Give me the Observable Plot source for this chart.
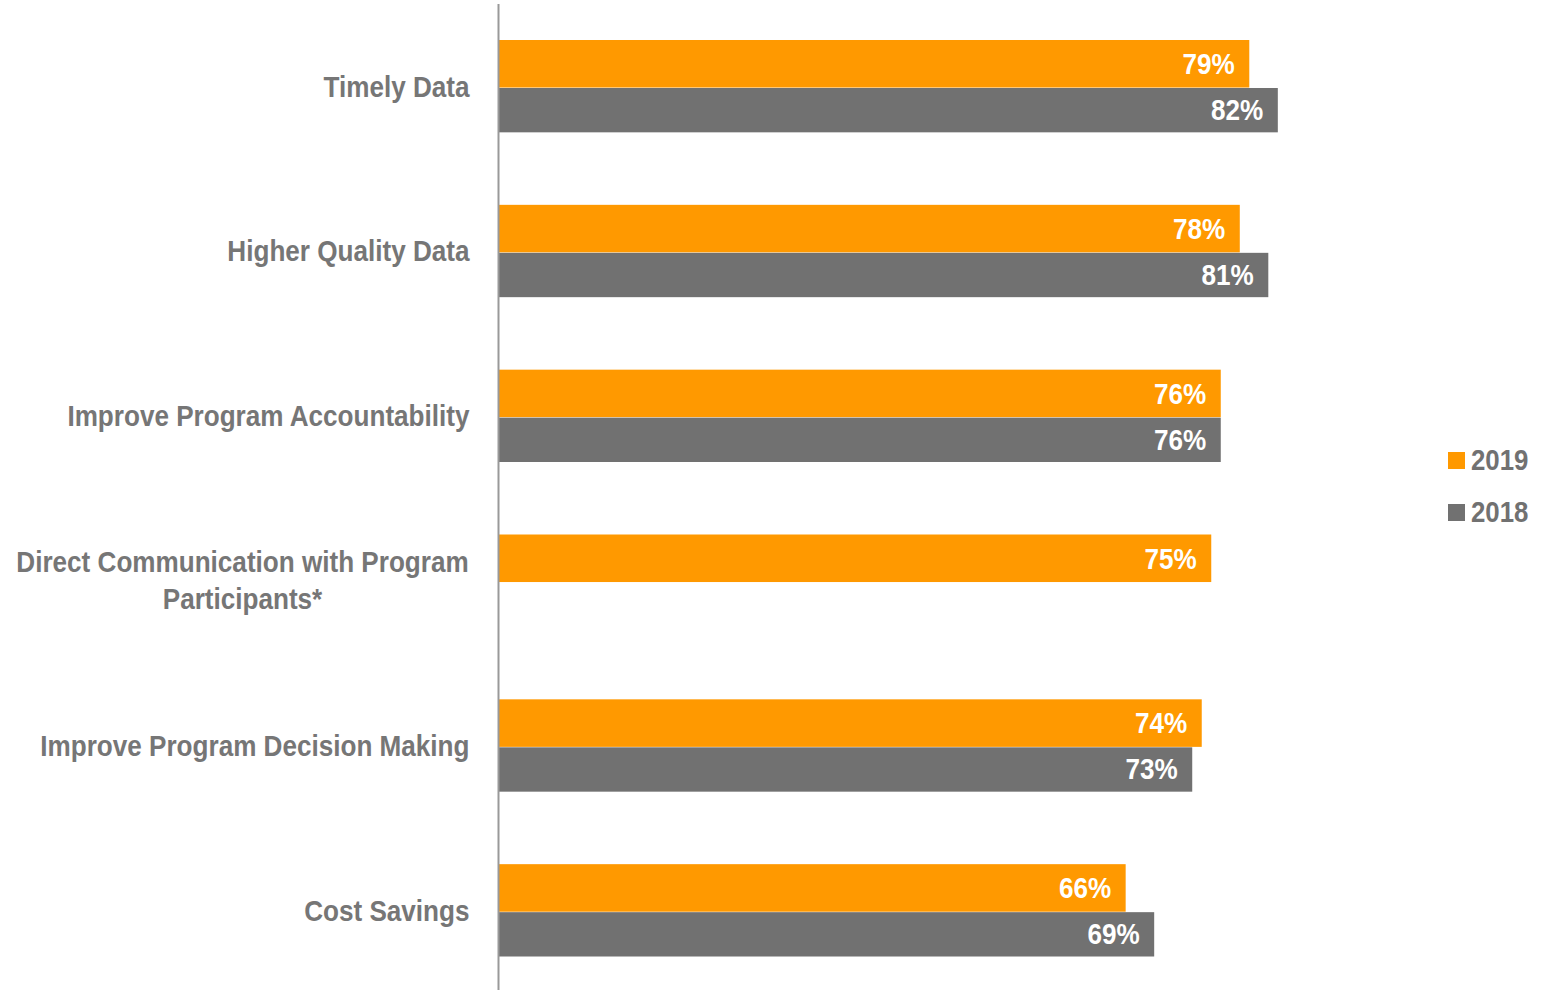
<!DOCTYPE html>
<html>
<head>
<meta charset="utf-8">
<script src="https://cdn.jsdelivr.net/npm/d3@7"></script>
<script src="https://cdn.jsdelivr.net/npm/@observablehq/plot@0.6"></script>
<style>
  html, body { margin: 0; padding: 0; background: #fff; }
  #wrap { position: relative; width: 1549px; height: 990px; overflow: hidden; }
  #legend { position: absolute; left: 1448px; top: 443px; font-family: "Liberation Sans", Arial, sans-serif; font-weight: bold; font-size: 30px; color: #717171; }
  .item { display: flex; align-items: center; height: 34px; margin-bottom: 18px; }
  .sw { width: 17px; height: 17px; margin-right: 6px; flex: none; }
  .item span { display: inline-block; transform: scaleX(0.86); transform-origin: left center; }
</style>
</head>
<body>
<div id="wrap"><div id="legend"></div></div>
<script>
const categories = ["Timely Data", "Higher Quality Data", "Improve Program Accountability", "Direct Communication with Program Participants*", "Improve Program Decision Making", "Cost Savings"];
const labelLines = ["Timely Data", "Higher Quality Data", "Improve Program Accountability", "Direct Communication with Program\nParticipants*", "Improve Program Decision Making", "Cost Savings"];
const values2019 = [79, 78, 76, 75, 74, 66];
const values2018 = [82, 81, 76, null, 73, 69];
const years = ["2019", "2018"];
const colors = ["#FF9900", "#717171"];

const font = "'Liberation Sans', Arial, sans-serif";
const rows2019 = categories.map((c, i) => ({category: c, year: "2019", value: values2019[i]}));
const rows2018 = categories.map((c, i) => ({category: c, year: "2018", value: values2018[i]})).filter(d => d.value != null);
const labels = categories.map((c, i) => ({category: c, label: labelLines[i]}));
const single = labels.filter(d => !d.label.includes("\n"));
const multi = labels.filter(d => d.label.includes("\n"));

const chart = Plot.plot({
  width: 1549,
  height: 990,
  marginLeft: 498,
  marginRight: 100,
  marginTop: 4,
  marginBottom: 0,
  style: {fontFamily: font, background: "transparent"},
  x: {domain: [0, 100], axis: null},
  y: {domain: categories, range: [4, 993], padding: 0, round: false, axis: null},
  color: {domain: years, range: colors},
  marks: [
    Plot.barX(rows2019, {x: "value", y: "category", fill: "year", insetTop: 36, insetBottom: 81.3}),
    Plot.barX(rows2018, {x: "value", y: "category", fill: "year", insetTop: 84, insetBottom: 36.5}),
    Plot.text(rows2019, {x: "value", y: "category", text: d => d.value + "%", dy: -22.5, dx: -15, textAnchor: "end", fill: "white", fontSize: 30, fontWeight: "bold", className: "sq"}),
    Plot.text(rows2018, {x: "value", y: "category", text: d => d.value + "%", dy: 23.5, dx: -15, textAnchor: "end", fill: "white", fontSize: 30, fontWeight: "bold", className: "sq"}),
    Plot.text(single, {y: "category", text: "label", frameAnchor: "left", dx: -29, textAnchor: "end", fill: "#767676", fontSize: 30, fontWeight: "bold", className: "sq"}),
    Plot.text(multi, {y: "category", text: "label", frameAnchor: "left", dx: -256, dy: -3, textAnchor: "middle", lineHeight: 1.23, fill: "#767676", fontSize: 30, fontWeight: "bold", className: "sq"}),
    Plot.ruleX([0], {stroke: "#999999", strokeWidth: 2})
  ]
});
const wrap = document.getElementById("wrap");
wrap.insertBefore(chart, wrap.firstChild);

// condense text horizontally about each text's own anchor (mimics a narrow face)
const squeeze = 0.87;
chart.querySelectorAll(".sq text").forEach(t => {
  const x = +(t.getAttribute("x") || 0);
  const tr = t.getAttribute("transform") || "";
  t.setAttribute("transform", `${tr} translate(${x},0) scale(${squeeze},1) translate(${-x},0)`);
});

const legend = document.getElementById("legend");
years.forEach((y, i) => {
  const item = document.createElement("div");
  item.className = "item";
  const sw = document.createElement("div");
  sw.className = "sw";
  sw.style.background = colors[i];
  const t = document.createElement("span");
  t.textContent = y;
  item.appendChild(sw);
  item.appendChild(t);
  legend.appendChild(item);
});
</script>
</body>
</html>
